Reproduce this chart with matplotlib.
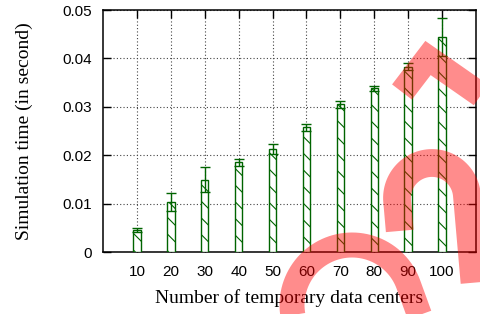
import matplotlib
matplotlib.use('Agg')
import matplotlib.pyplot as plt
from matplotlib.lines import Line2D
import numpy as np

plt.rcParams.update({
    'font.family': 'Liberation Sans', 'font.size': 11,
    'hatch.linewidth': 0.8, 'hatch.color': '#006400',
    'axes.linewidth': 1.1,
})

# data
centers = [10, 20, 30, 40, 50, 60, 70, 80, 90, 100]
sim_time = [0.0046, 0.0103, 0.0149, 0.0185, 0.0213, 0.0258, 0.0305, 0.0338, 0.0383, 0.0444]
sim_err = [0.0004, 0.0018, 0.0026, 0.0008, 0.0010, 0.0007, 0.0008, 0.0005, 0.0007, 0.0040]
yticks = [0, 0.01, 0.02, 0.03, 0.04, 0.05]
ytick_labels = ['0', '0.01', '0.02', '0.03', '0.04', '0.05']

GREEN = '#006400'
W, H = 481, 314

fig = plt.figure(figsize=(W / 100, H / 100), dpi=100)
ax = fig.add_axes([103 / W, 62 / H, 373 / W, 242 / H])

ax.bar(centers, sim_time, width=2.2, color='white', edgecolor=GREEN, lw=1.0,
       hatch='\\\\', zorder=3)
ax.errorbar(centers, sim_time, yerr=sim_err, fmt='none', ecolor=GREEN,
            elinewidth=1.0, capsize=3.5, capthick=1.0, zorder=4)

ax.set_xlim(0, 110)
ax.set_ylim(0, 0.05)
ax.set_xticks(centers)
ax.set_xticklabels([str(c) for c in centers])
ax.set_yticks(yticks)
ax.set_yticklabels(ytick_labels)
ax.tick_params(direction='in', length=6, width=1.0, top=True, right=True,
               labelsize=11, colors='black')
ax.tick_params(axis='x', pad=9)
ax.tick_params(axis='y', pad=8)
ax.set_axisbelow(True)
ax.grid(True, color='#444444', linestyle=(0, (1, 2)), linewidth=0.8)

serif = 'Liberation Serif'
ax.set_xlabel('Number of temporary data centers', fontsize=14, family=serif, labelpad=8)
ax.set_ylabel('Simulation time (in second)', fontsize=14, family=serif, labelpad=21)

# translucent red watermark strokes over the chart
def to_fig(px, py):
    return np.asarray(px) / W, (H - np.asarray(py)) / H

def n_shape(cx, cy, r, phi, l_left, l_right, n=60):
    # arch with two legs, in image pixels (y down), rotated by phi degrees
    t = np.linspace(np.pi, 0, n)
    xs = np.concatenate([[-r], r * np.cos(t), [r]])
    ys = np.concatenate([[-l_left], r * np.sin(t), [-l_right]])
    a = np.deg2rad(phi)
    xr = xs * np.cos(a) - ys * np.sin(a)
    yr = xs * np.sin(a) + ys * np.cos(a)
    return cx + xr, cy - yr

wm = dict(color='#ff0000', alpha=0.45, solid_capstyle='butt',
          solid_joinstyle='miter', zorder=10)
strokes = [
    (n_shape(352, 305, 60, 20, 60, 60), 18),
    (n_shape(432, 198, 35, 5, 30, 88), 20),
    (([402, 428, 481], [92, 58, 95]), 18),
]
for (px, py), lw in strokes:
    fx, fy = to_fig(px, py)
    fig.add_artist(Line2D(fx, fy, lw=lw, transform=fig.transFigure, **wm))

fig.savefig('out.png', dpi=100)
